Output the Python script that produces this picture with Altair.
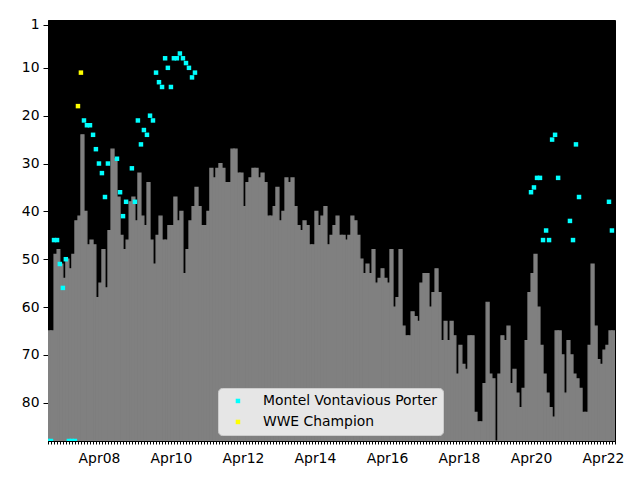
import altair as alt
import pandas as pd

# ---- data ----
bar_start = "2006-11-01"  # first monthly bar
bar_values = [
    65, 65, 49, 48, 51, 54, 50, 52, 49, 42, 41, 24, 40, 47, 46, 47, 58, 55, 48, 56,
    44, 27, 29, 37, 45, 48, 46, 38, 37, 42, 32, 41, 43, 34, 46, 51, 45, 41, 46, 46,
    43, 43, 37, 42, 40, 53, 48, 42, 39, 35, 39, 43, 43, 40, 31, 33, 31, 30, 31, 34,
    34, 27, 27, 32, 32, 39, 34, 33, 31, 31, 33, 32, 34, 41, 41, 39, 35, 42, 40, 33,
    34, 33, 39, 43, 44, 42, 43, 47, 47, 40, 43, 41, 39, 47, 45, 43, 41, 45, 45, 46,
    45, 41, 42, 45, 50, 53, 51, 53, 48, 55, 54, 52, 54, 55, 48, 60, 58, 48, 64, 66,
    66, 61, 62, 63, 55, 53, 53, 60, 57, 52, 57, 67, 63, 67, 63, 66, 74, 68, 72, 73,
    66, 66, 82, 84, 84, 76, 59, 74, 75, 88, 74, 66, 67, 64, 76, 73, 78, 81, 77, 67,
    57, 53, 49, 60, 68, 74, 78, 81, 83, 65, 65, 70, 78, 67, 70, 74, 75, 77, 82, 82,
    68, 51, 64, 71, 72, 69, 68, 65, 65,
]

mvp_months = [
    "2006-11", "2006-12", "2007-01", "2007-02", "2007-03", "2007-04", "2007-05",
    "2007-06", "2007-07", "2007-08",
    "2007-11", "2007-12", "2008-01", "2008-02", "2008-03", "2008-04", "2008-05",
    "2008-06", "2008-07", "2008-10", "2008-11", "2008-12", "2009-01", "2009-03",
    "2009-04", "2009-05", "2009-06", "2009-07", "2009-08", "2009-09", "2009-10",
    "2009-11", "2009-12", "2010-01", "2010-02", "2010-03", "2010-04", "2010-05",
    "2010-06", "2010-07", "2010-08", "2010-09", "2010-10", "2010-11", "2010-12",
    "2020-04", "2020-05", "2020-06", "2020-07", "2020-08", "2020-09", "2020-10",
    "2020-11", "2020-12", "2021-01", "2021-05", "2021-06", "2021-07", "2021-08",
    "2022-06", "2022-07",
]
mvp_ranks = [
    88, 88, 46, 46, 51, 56, 50,
    88, 88, 88,
    21, 22, 22, 24, 27, 30, 32,
    37, 30, 29, 36, 41, 38, 31,
    38, 21, 26, 23, 24, 20, 21,
    11, 13, 14, 8, 10, 14, 8,
    8, 7, 8, 9, 10, 12, 11,
    36, 35, 33, 33, 46, 44, 46,
    25, 24, 33, 42, 46, 26, 37,
    38, 44,
]

champ_months = ["2007-09", "2007-10"]
champ_ranks = [18, 11]

series_names = ["Montel Vontavious Porter", "WWE Champion"]
series_colors = ["#00ffff", "#ffff00"]
y_ticks = [1, 10, 20, 30, 40, 50, 60, 70, 80]

# ---- tables ----
starts = pd.date_range(bar_start, periods=len(bar_values), freq="MS")
ends = starts + pd.offsets.MonthBegin(1)
bars_df = pd.DataFrame({
    "start": starts.strftime("%Y-%m-%d"),
    "end": ends.strftime("%Y-%m-%d"),
    "value": bar_values,
})

pts_df = pd.DataFrame({
    "date": [m + "-01" for m in mvp_months] + [m + "-01" for m in champ_months],
    "rank": mvp_ranks + champ_ranks,
    "series": [series_names[0]] * len(mvp_months) + [series_names[1]] * len(champ_months),
})

FONT = "DejaVu Sans"
FS = 13.9

xscale = alt.Scale(
    type="utc",
    domain=[
        alt.DateTime(year=2006, month=11, date=1, utc=True),
        alt.DateTime(year=2022, month=8, date=1, utc=True),
    ],
    nice=False,
)
yscale = alt.Scale(domain=[0, 88], reverse=True, nice=False, zero=False)

x_axis = alt.Axis(
    title=None,
    grid=False,
    tickCount={"interval": "month", "step": 1},
    labelExpr="utcmonth(datum.value) == 3 && utcyear(datum.value) % 2 == 0 ? utcFormat(datum.value, '%b%y') : ''",
    labelOverlap=False,
    labelFlush=False,
    labelBound=False,
    tickSize=3,
    tickColor="black",
    domainColor="black",
    labelColor="black",
    labelFont=FONT,
    labelFontSize=FS,
    labelPadding=7,
)
y_axis = alt.Axis(
    title=None,
    grid=False,
    values=y_ticks,
    tickSize=5,
    tickColor="black",
    domainColor="black",
    labelColor="black",
    labelFont=FONT,
    labelFontSize=FS,
    labelPadding=4,
)

bars = alt.Chart(bars_df).mark_bar(
    color="#808080", clip=True, stroke="#808080", strokeWidth=1.2
).encode(
    x=alt.X("start:T", scale=xscale, axis=x_axis),
    x2="end:T",
    y=alt.Y("value:Q", scale=yscale, axis=y_axis),
    y2=alt.datum(88),
)

points = alt.Chart(pts_df).mark_square(size=20, opacity=1, clip=True).encode(
    x=alt.X("date:T", scale=xscale),
    y=alt.Y("rank:Q", scale=yscale),
    color=alt.Color(
        "series:N",
        scale=alt.Scale(domain=series_names, range=series_colors),
        legend=alt.Legend(
            title=None,
            orient="none",
            legendX=170,
            legendY=368,
            fillColor="#e6e6e6",
            strokeColor="#cccccc",
            cornerRadius=4,
            padding=6,
            symbolType="square",
            symbolSize=20,
            symbolStrokeWidth=0,
            symbolOffset=7,
            labelOffset=18,
            labelLimit=0,
            labelFont=FONT,
            labelFontSize=FS,
            labelColor="black",
            rowPadding=6,
        ),
    ),
)

chart = alt.layer(bars, points).properties(
    width=567,
    height=421,
    autosize=alt.AutoSizeParams(type="none"),
    padding={"left": 48, "top": 20, "right": 25, "bottom": 39},
    background="white",
).configure_view(
    fill="black",
    stroke="black",
)

chart.save("out.html", embed_options={"renderer": "svg", "actions": False})
